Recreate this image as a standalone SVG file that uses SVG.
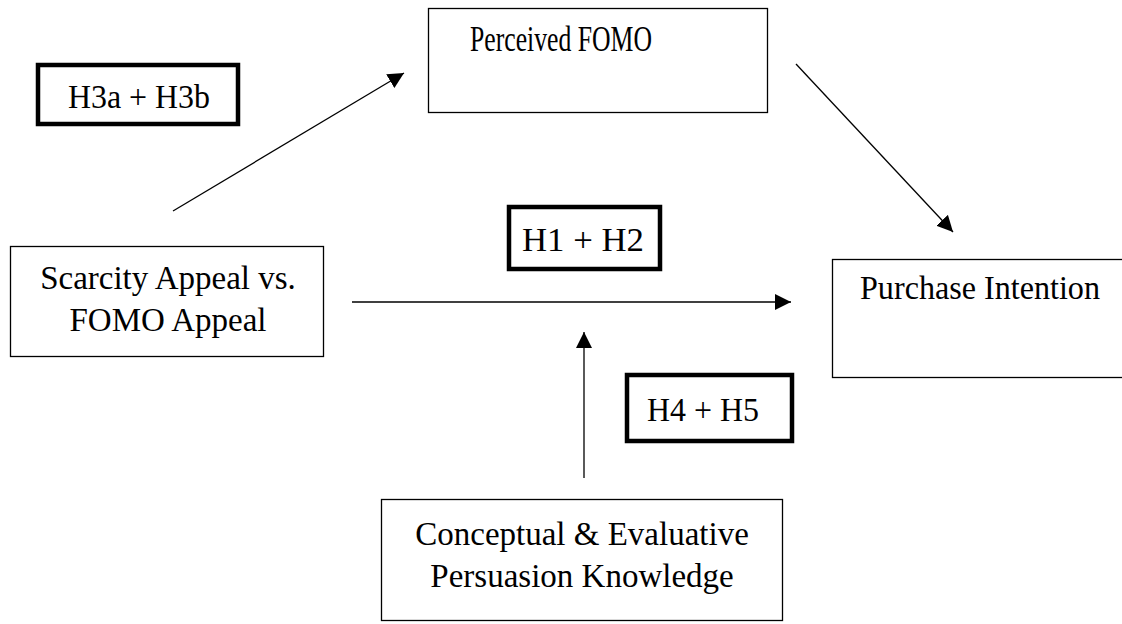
<svg xmlns="http://www.w3.org/2000/svg" width="1122" height="624" viewBox="0 0 1122 624">
<style>
.box{fill:#fff;stroke:#000;stroke-width:1.3}
.hbox{fill:#fff;stroke:#000;stroke-width:4.5}
.t{font-family:"Liberation Serif","Times New Roman",serif;font-size:33px;fill:#000}
.c{stroke:#000;stroke-width:1.3;fill:none}
</style>
<defs>
<marker id="ah" markerUnits="userSpaceOnUse" markerWidth="18" markerHeight="16" refX="16" refY="8" orient="auto">
<path d="M0,0 L16,8 L0,16 Z" fill="#000"/>
</marker>
</defs>
<rect width="1122" height="624" fill="#fff"/>
<g id="connectors">
<line class="c" x1="173" y1="211" x2="404" y2="73" marker-end="url(#ah)"/>
<line class="c" x1="796" y1="64" x2="953" y2="232" marker-end="url(#ah)"/>
<line class="c" x1="352" y1="302" x2="791" y2="302" marker-end="url(#ah)"/>
<line class="c" x1="584" y1="478" x2="584" y2="332" marker-end="url(#ah)"/>
</g>
<g id="h3">
<rect class="hbox" x="38" y="65" width="200" height="59"/>
<text class="t" x="139" y="108" text-anchor="middle" textLength="142" lengthAdjust="spacingAndGlyphs">H3a + H3b</text>
</g>
<g id="perceived">
<rect class="box" x="428.5" y="8.5" width="339" height="104"/>
<text class="t" x="561" y="51" text-anchor="middle" style="font-size:36px" textLength="182" lengthAdjust="spacingAndGlyphs">Perceived FOMO</text>
</g>
<g id="h1">
<rect class="hbox" x="509" y="207" width="151" height="62"/>
<text class="t" x="583" y="251" text-anchor="middle" textLength="122" lengthAdjust="spacingAndGlyphs">H1 + H2</text>
</g>
<g id="scarcity">
<rect class="box" x="10.5" y="246.5" width="313" height="110"/>
<text class="t" x="168" y="289" text-anchor="middle">Scarcity Appeal vs.</text>
<text class="t" x="168" y="331" text-anchor="middle">FOMO Appeal</text>
</g>
<g id="purchase">
<rect class="box" x="832.5" y="259.5" width="300" height="118"/>
<text class="t" x="860" y="299" textLength="240" lengthAdjust="spacingAndGlyphs">Purchase Intention</text>
</g>
<g id="h4">
<rect class="hbox" x="627" y="375" width="165" height="66"/>
<text class="t" x="703" y="421" text-anchor="middle" textLength="112" lengthAdjust="spacingAndGlyphs">H4 + H5</text>
</g>
<g id="conceptual">
<rect class="box" x="381.5" y="499.5" width="401" height="121"/>
<text class="t" x="582" y="545" text-anchor="middle">Conceptual &amp; Evaluative</text>
<text class="t" x="582" y="587" text-anchor="middle">Persuasion Knowledge</text>
</g>
</svg>
